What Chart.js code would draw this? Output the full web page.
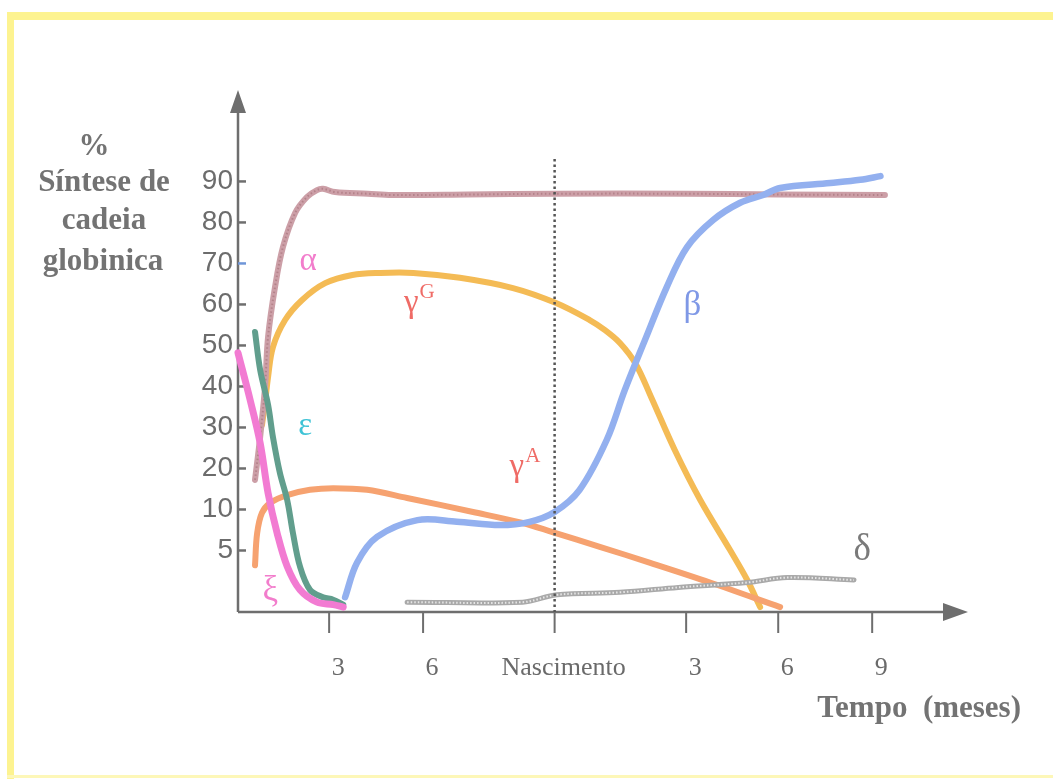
<!DOCTYPE html>
<html>
<head>
<meta charset="utf-8">
<title>Síntese de cadeia globinica</title>
<script src="https://cdn.jsdelivr.net/npm/chart.js@4.4.1/dist/chart.umd.min.js"></script>
<style>
  html, body { margin: 0; padding: 0; background: #fff; }
  canvas { display: block; }
</style>
</head>
<body>
<canvas id="globinChart" width="1053" height="779"></canvas>
<script>
// Time axis: months since conception (birth = 9), tick labels as printed
const xTickMonths = [3, 6, 9, 12, 15, 18];
const xTickLabels = ['3', '6', 'Nascimento', '3', '6', '9'];
// Percent axis ticks
const yTickValues = [5, 10, 20, 30, 40, 50, 60, 70, 80, 90];
const yTickLabels = ['5', '10', '20', '30', '40', '50', '60', '70', '80', '90'];

// Both axes of the drawing are not uniform: breakpoints of each scale
const xKnotValues = [0, 3, 6, 9, 12, 15, 18, 21];
const xKnotUnits  = [0, 0.97, 1.97, 3.37, 4.77, 5.75, 6.75, 7.77];
const yKnotValues = [0, 5, 10, 100];
const yKnotUnits  = [0, 1.5, 2.5, 11.5];

// Chains (months, % synthesis)
const zetaMonths = [0, 0.4, 0.73, 0.99, 1.29, 1.62, 2.04, 2.6, 3.13, 3.45];
const zetaPct    = [48.2, 36.7, 26.2, 14.0, 7.1, 3.7, 1.8, 0.8, 0.6, 0.4];

const epsilonMonths = [0.56, 0.73, 0.99, 1.15, 1.38, 1.62, 1.81, 2.04, 2.37, 2.8, 3.13, 3.45];
const epsilonPct    = [53.3, 44.0, 35.5, 27.7, 18.9, 12.3, 7.1, 3.7, 1.8, 1.2, 1.0, 0.6];

const alphaMonths = [0.56, 0.73, 0.89, 0.99, 1.22, 1.48, 1.88, 2.27, 2.6, 2.8, 3.19, 4.24, 5.0, 7, 9, 12, 15, 18.4];
const alphaPct    = [17.2, 27.7, 39.9, 52.1, 64.3, 74.0, 82.3, 86.2, 87.9, 88.2, 87.4, 87.0, 86.7, 86.8, 87.0, 87.0, 86.8, 86.7];

const gammaGMonths = [0.79, 0.89, 0.99, 1.15, 1.55, 2.11, 2.87, 3.74, 4.63, 5.69, 6.84, 8.05, 9.02, 9.8, 10.14, 10.49, 10.85, 11.21, 11.74, 12.46, 13.43, 13.99, 14.41];
const gammaGPct    = [30.6, 36.0, 42.3, 49.6, 56.2, 61.1, 65.2, 67.2, 67.7, 67.7, 66.5, 64.0, 60.4, 56.2, 53.8, 50.6, 45.5, 37.2, 24.5, 12.3, 5.05, 2.6, 0.4];

const gammaAMonths = [0.56, 0.63, 0.79, 1.06, 1.62, 2.37, 3.13, 4.21, 5.49, 7.14, 8.27, 8.95, 10.03, 11.18, 12.78, 15.06];
const gammaAPct    = [3.8, 7.1, 9.6, 11.6, 13.5, 14.8, 15.2, 14.8, 12.8, 9.7, 8.35, 7.25, 5.45, 4.0, 2.4, 0.4];

const betaMonths = [3.51, 3.89, 4.53, 5.82, 6.77, 7.75, 8.43, 9.0, 9.57, 10.19, 10.6, 11.06, 11.56, 12.03, 12.88, 13.76, 14.51, 15.06, 16.66, 17.62, 18.26];
const betaPct    = [1.2, 4.0, 6.65, 8.7, 8.5, 8.1, 8.5, 9.7, 14.8, 27.0, 39.1, 51.3, 64.3, 74.0, 80.6, 84.8, 86.7, 88.4, 89.6, 90.4, 91.3];

const deltaMonths = [5.49, 8.27, 9.05, 10.49, 11.82, 13.99, 15.29, 17.42];
const deltaPct    = [0.8, 0.8, 1.4, 1.6, 2.0, 2.4, 2.8, 2.6];

// Greek letter labels, anchored at their baseline
const curveLabels = [
    { text: 'α', month: 2.31, pct: 68.4, color: '#f27dcc', size: 33 },
    { text: 'γ', sup: 'G', month: 5.62, pct: 58.2, color: '#ef6b66', size: 33 },
    { text: 'ε', month: 2.21, pct: 28.2, color: '#3fc3d6', size: 33 },
    { text: 'γ', sup: 'A', month: 8.14, pct: 18.2, color: '#ef6b66', size: 33 },
    { text: 'β', month: 12.2, pct: 57.4, color: '#7f98e6', size: 35 },
    { text: 'δ', month: 17.68, pct: 4.2, color: '#7a7a7a', size: 37 },
    { text: 'ξ', month: 1.06, pct: 1.0, color: '#f27dcc', size: 35 }
];

const axisKnots = {
    x: { values: xKnotValues, units: xKnotUnits },
    y: { values: yKnotValues, units: yKnotUnits }
};

function interp(v, from, to) {
    let i = 1;
    while (i < from.length - 1 && v > from[i]) i++;
    const t = (v - from[i - 1]) / (from[i] - from[i - 1]);
    return to[i - 1] + t * (to[i] - to[i - 1]);
}

// Linear scale bent at the breakpoints above
class KnotScale extends Chart.LinearScale {
    toUnit(v) {
        const k = axisKnots[this.id];
        return interp(v, k.values, k.units);
    }
    getPixelForValue(value) {
        if (value === null || value === undefined || isNaN(value)) return NaN;
        const u0 = this.toUnit(this.min);
        const u1 = this.toUnit(this.max);
        return this.getPixelForDecimal((this.toUnit(value) - u0) / (u1 - u0));
    }
    getValueForPixel(pixel) {
        const k = axisKnots[this.id];
        const u0 = this.toUnit(this.min);
        const u1 = this.toUnit(this.max);
        const u = u0 + this.getDecimalForPixel(pixel) * (u1 - u0);
        return interp(u, k.units, k.values);
    }
}
KnotScale.id = 'knot';
KnotScale.defaults = {};
Chart.register(KnotScale);

function toPoints(months, pct) {
    return months.map((m, i) => ({ x: m, y: pct[i] }));
}

function chain(label, months, pct, color, width, dash) {
    return {
        label,
        data: toPoints(months, pct),
        borderColor: color,
        borderWidth: width,
        borderDash: dash || [],
        pointRadius: 0,
        fill: false,
        clip: false,
        tension: 0.35,
        borderCapStyle: dash ? 'butt' : 'round'
    };
}

const GREY = '#6e6e6e';

const decorPlugin = {
    id: 'decor',
    beforeDraw(chart) {
        const ctx = chart.ctx;
        ctx.save();
        ctx.fillStyle = '#ffffff';
        ctx.fillRect(0, 0, chart.width, chart.height);
        // yellow frame of the scan
        ctx.fillStyle = '#fdf390';
        ctx.fillRect(7, 12, chart.width - 7, 8);
        ctx.fillRect(7, 12, 7, chart.height - 12);
        ctx.fillStyle = '#fdf7b8';
        ctx.fillRect(7, chart.height - 4, chart.width - 7, 3);
        ctx.restore();
    },
    beforeDatasetsDraw(chart) {
        const { ctx, chartArea: a, scales: { x, y } } = chart;
        ctx.save();
        ctx.strokeStyle = GREY;
        ctx.fillStyle = GREY;
        ctx.lineWidth = 2.5;
        // axes
        ctx.beginPath();
        ctx.moveTo(a.left, a.bottom);
        ctx.lineTo(a.left, a.top + 20);
        ctx.moveTo(a.left, a.bottom);
        ctx.lineTo(a.right - 22, a.bottom);
        ctx.stroke();
        // arrow heads
        ctx.beginPath();
        ctx.moveTo(a.left, a.top);
        ctx.lineTo(a.left - 8, a.top + 23);
        ctx.lineTo(a.left + 8, a.top + 23);
        ctx.closePath();
        ctx.moveTo(a.right, a.bottom);
        ctx.lineTo(a.right - 25, a.bottom - 9);
        ctx.lineTo(a.right - 25, a.bottom + 9);
        ctx.closePath();
        ctx.fill();
        // y ticks: short dashes right of the axis
        ctx.lineWidth = 2.5;
        yTickValues.forEach(v => {
            const py = y.getPixelForValue(v);
            ctx.strokeStyle = v === 70 ? '#6f96d8' : GREY;
            ctx.beginPath();
            ctx.moveTo(a.left, py);
            ctx.lineTo(a.left + 8, py);
            ctx.stroke();
        });
        // x ticks below the axis
        ctx.strokeStyle = GREY;
        ctx.lineWidth = 2;
        xTickMonths.forEach(m => {
            const px = x.getPixelForValue(m);
            ctx.beginPath();
            ctx.moveTo(px, a.bottom);
            ctx.lineTo(px, a.bottom + 21);
            ctx.stroke();
        });
        ctx.restore();
    },
    afterDatasetsDraw(chart) {
        const { ctx, chartArea: a, scales: { x, y } } = chart;
        ctx.save();
        // birth line
        const bx = x.getPixelForValue(9);
        ctx.strokeStyle = '#555555';
        ctx.lineWidth = 2.5;
        ctx.setLineDash([2.5, 3]);
        ctx.beginPath();
        ctx.moveTo(bx, y.getPixelForValue(95.5));
        ctx.lineTo(bx, a.bottom);
        ctx.stroke();
        ctx.setLineDash([]);

        // greek labels
        ctx.textAlign = 'center';
        ctx.textBaseline = 'alphabetic';
        curveLabels.forEach(l => {
            const px = x.getPixelForValue(l.month);
            const py = y.getPixelForValue(l.pct);
            ctx.fillStyle = l.color;
            ctx.font = l.size + 'px "Liberation Serif", serif';
            ctx.fillText(l.text, px, py);
            if (l.sup) {
                const w = ctx.measureText(l.text).width;
                ctx.textAlign = 'left';
                ctx.font = '21px "Liberation Serif", serif';
                ctx.fillText(l.sup, px + w / 2 + 1, py - 14);
                ctx.textAlign = 'center';
            }
        });

        // axis titles
        ctx.fillStyle = '#737373';
        ctx.font = 'bold 31px "Liberation Serif", serif';
        ctx.fillText('%', 94, 155);
        ctx.fillText('Síntese de', 104, 191);
        ctx.fillText('cadeia', 104, 229);
        ctx.fillText('globinica', 103, 270);
        ctx.textAlign = 'right';
        ctx.font = 'bold 31px "Liberation Serif", serif';
        ctx.fillText('Tempo  (meses)', 1021, 717);
        ctx.restore();
    }
};

new Chart(document.getElementById('globinChart'), {
    type: 'line',
    data: {
        datasets: [
            chain('ξ', zetaMonths, zetaPct, '#f27bd2', 7),
            chain('ε', epsilonMonths, epsilonPct, '#619e8d', 6),
            chain('δ texture', deltaMonths, deltaPct, '#e6e6e6', 2, [1.5, 2]),
            chain('δ', deltaMonths, deltaPct, '#a9a9a9', 5),
            chain('β', betaMonths, betaPct, '#93b0ef', 6.5),
            chain('α texture', alphaMonths, alphaPct, '#b4828a', 2, [1.5, 2.5]),
            chain('α', alphaMonths, alphaPct, '#cc9fa7', 6),
            chain('γA', gammaAMonths, gammaAPct, '#f6a270', 6),
            chain('γG', gammaGMonths, gammaGPct, '#f4bb55', 6)
        ]
    },
    options: {
        responsive: false,
        animation: false,
        devicePixelRatio: 1,
        events: [],
        layout: { padding: { top: 90, right: 85, left: 0, bottom: 0 } },
        plugins: {
            legend: { display: false },
            tooltip: { enabled: false },
            title: { display: false }
        },
        scales: {
            x: {
                type: 'knot',
                min: 0,
                max: 21,
                grid: { display: false, drawTicks: false },
                border: { display: false },
                ticks: {
                    autoSkip: false,
                    maxRotation: 0,
                    padding: 41,
                    labelOffset: 9,
                    color: '#6a6a6a',
                    font: { family: '"Liberation Serif", serif', size: 26 },
                    callback: (v, i) => xTickLabels[i]
                },
                afterBuildTicks: s => { s.ticks = xTickMonths.map(v => ({ value: v })); },
                afterFit: s => { s.height = 779 - 612; }
            },
            y: {
                type: 'knot',
                min: 0,
                max: 112.3,
                grid: { display: false, drawTicks: false },
                border: { display: false },
                ticks: {
                    autoSkip: false,
                    padding: 5,
                    color: '#6c6c6c',
                    font: { family: '"Liberation Sans", sans-serif', size: 28 },
                    callback: (v, i) => yTickLabels[i]
                },
                afterBuildTicks: s => { s.ticks = yTickValues.map(v => ({ value: v })); },
                afterFit: s => { s.width = 238; }
            }
        }
    },
    plugins: [decorPlugin]
});
</script>
</body>
</html>
